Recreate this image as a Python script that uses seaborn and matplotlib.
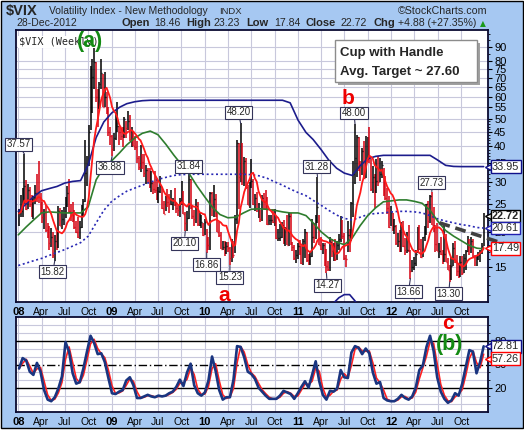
#!/usr/bin/env python3

import numpy as np
import pandas as pd
import matplotlib
matplotlib.use("Agg")
import matplotlib.pyplot as plt
import matplotlib.ticker as mticker
import matplotlib.dates as mdates
from matplotlib.patches import Rectangle
import seaborn as sns

W, H = 524, 432

# weekly bars (high / low / close), one list per year
high_2008 = [24.1, 27.0, 28.5, 37.57, 30.5, 29.5, 28.7, 26.9, 26.8, 29.2, 32.0, 35.6, 27.5,
             25.5, 24.0, 24.8, 21.5, 21.0, 20.6, 20.0, 19.5, 20.1, 24.6, 24.2, 23.8, 24.5,
             26.5, 29.0, 30.8, 25.0, 25.5, 23.8, 21.9, 22.5, 21.9, 24.9, 26.1, 42.2, 37.0,
             47.7, 76.9, 81.2, 89.53, 79.2, 64.0, 67.7, 81.5, 72.0, 73.0, 62.0, 55.0, 47.0]
low_2008 = [21.0, 22.5, 22.6, 25.0, 23.8, 24.0, 24.5, 22.6, 22.2, 25.0, 25.5, 25.2, 23.3,
            21.5, 20.5, 19.9, 19.0, 17.2, 17.6, 16.2, 15.82, 17.2, 17.5, 20.9, 20.5, 21.1,
            22.3, 24.5, 23.3, 21.8, 21.6, 20.4, 19.8, 19.0, 18.8, 20.6, 22.5, 25.4, 29.0,
            34.0, 45.6, 52.6, 64.0, 57.6, 47.0, 54.0, 64.0, 55.0, 55.0, 52.0, 43.5, 40.3]
close_2008 = [23.2, 23.7, 27.2, 29.0, 24.0, 28.0, 25.0, 24.1, 26.5, 27.5, 27.3, 26.6, 25.7,
              22.5, 23.5, 20.3, 20.1, 18.2, 19.2, 16.5, 18.5, 17.8, 23.6, 21.0, 22.2, 23.4,
              25.7, 27.5, 23.6, 22.9, 22.6, 20.7, 20.0, 19.2, 20.7, 23.1, 25.7, 32.1, 34.7,
              45.1, 70.0, 70.3, 79.1, 59.9, 56.1, 66.3, 72.7, 55.3, 59.9, 54.3, 44.9, 43.4]

high_2009 = [44.0, 44.6, 52.5, 57.4, 47.3, 46.5, 47.0, 50.6, 49.3, 53.2, 51.6, 46.8, 45.1,
             43.5, 41.7, 37.0, 40.3, 37.7, 37.5, 34.4, 33.5, 33.5, 32.7, 30.0, 32.7, 30.6,
             28.7, 31.5, 28.7, 25.6, 26.8, 28.2, 27.1, 28.1, 26.4, 28.5, 25.4, 24.6, 26.2,
             30.1, 27.8, 23.5, 23.6, 31.84, 30.7, 24.8, 23.8, 26.1, 25.4, 23.2, 23.0, 21.5, 22.1]
low_2009 = [36.88, 38.5, 42.0, 45.0, 40.3, 42.0, 39.9, 43.0, 42.9, 45.8, 41.8, 39.8, 40.0,
            38.7, 35.0, 33.0, 32.6, 33.4, 31.2, 29.4, 29.8, 28.5, 27.6, 27.2, 27.5, 25.8,
            25.2, 27.4, 24.0, 23.1, 23.6, 24.4, 23.3, 24.8, 23.9, 24.6, 23.3, 22.8, 22.5,
            24.9, 23.1, 20.10, 20.2, 22.1, 24.1, 22.2, 21.0, 21.5, 21.0, 21.0, 20.6, 19.3, 19.4]
close_2009 = [39.2, 42.8, 46.1, 47.3, 44.8, 43.4, 41.3, 49.9, 46.4, 49.3, 42.4, 45.9, 40.1,
              39.7, 36.5, 33.9, 35.8, 35.3, 32.1, 33.1, 32.6, 28.9, 29.6, 28.2, 28.0, 25.9,
              27.9, 29.0, 24.3, 23.1, 25.9, 25.4, 25.0, 25.0, 25.7, 25.3, 24.2, 23.9, 25.6,
              28.7, 23.1, 21.4, 22.3, 30.7, 24.2, 22.7, 22.2, 24.7, 21.3, 21.6, 21.7, 19.5, 21.7]

high_2010 = [20.5, 19.2, 27.7, 27.7, 29.2, 27.2, 23.4, 21.7, 19.9, 18.6, 18.5, 18.4, 18.4,
             17.6, 18.8, 18.6, 23.0, 42.2, 41.0, 48.20, 41.0, 36.6, 36.4, 29.2, 30.0, 36.0,
             30.7, 27.2, 27.6, 25.3, 23.9, 27.0, 27.3, 28.0, 26.6, 23.0, 23.0, 24.1, 24.0,
             22.7, 20.5, 21.3, 21.7, 22.0, 20.7, 22.9, 23.3, 23.3, 18.4, 17.9, 17.3, 18.2]
low_2010 = [16.86, 17.2, 17.3, 22.8, 22.6, 22.5, 19.9, 19.2, 17.4, 17.2, 16.4, 16.7, 17.0,
            15.23, 15.6, 16.2, 16.8, 21.3, 24.0, 29.9, 29.2, 29.0, 28.2, 24.8, 24.3, 28.5,
            24.9, 23.6, 23.4, 22.4, 21.6, 21.9, 24.0, 23.8, 21.2, 21.1, 21.2, 21.4, 21.0,
            18.9, 18.6, 18.5, 19.0, 18.1, 17.8, 18.0, 17.8, 17.9, 17.1, 15.9, 15.5, 16.0]
close_2010 = [18.1, 17.9, 27.3, 24.6, 26.1, 22.7, 20.0, 19.5, 17.4, 17.6, 17.0, 17.8, 17.5,
              16.1, 18.4, 16.6, 22.1, 41.0, 31.2, 45.8, 32.1, 35.5, 28.8, 24.9, 28.5, 30.1,
              25.0, 26.3, 23.5, 23.5, 22.1, 26.2, 25.5, 24.5, 21.3, 22.0, 22.0, 21.7, 22.5,
              19.0, 19.0, 19.1, 21.2, 18.3, 20.6, 18.0, 22.7, 18.0, 17.6, 16.1, 16.5, 17.8]

high_2011 = [18.7, 17.8, 18.8, 20.5, 20.0, 16.7, 16.9, 22.1, 21.5, 22.9, 31.28, 23.0, 19.2,
             18.2, 18.3, 17.4, 15.8, 19.1, 18.9, 18.2, 18.9, 18.5, 19.6, 22.7, 22.0, 19.8,
             16.6, 21.8, 20.4, 25.5, 35.4, 48.00, 43.9, 43.2, 35.6, 39.4, 41.8, 43.5, 43.2,
             46.9, 36.0, 34.1, 32.0, 36.0, 36.9, 36.5, 35.5, 33.7, 31.5, 28.6, 26.8, 24.7]
low_2011 = [16.5, 15.4, 15.3, 16.1, 15.7, 15.3, 15.3, 16.3, 18.3, 18.8, 21.5, 17.9, 17.2,
            16.7, 15.2, 14.27, 14.5, 14.5, 16.3, 15.8, 15.8, 15.9, 17.2, 18.4, 18.8, 15.9,
            15.0, 17.0, 17.0, 18.5, 22.5, 29.5, 31.2, 32.7, 30.2, 31.7, 30.6, 31.0, 35.8,
            35.0, 27.9, 27.3, 24.2, 27.5, 29.0, 29.9, 31.0, 26.8, 25.9, 23.1, 20.6, 20.9]
close_2011 = [17.1, 15.5, 18.5, 20.0, 15.9, 15.7, 16.4, 19.2, 19.1, 21.9, 24.4, 18.0, 17.4,
              17.9, 15.3, 15.1, 14.8, 18.4, 17.1, 17.4, 16.0, 18.0, 18.9, 21.9, 19.3, 16.1,
              16.0, 19.5, 17.5, 25.3, 32.0, 36.4, 43.1, 35.6, 33.9, 38.5, 31.0, 41.3, 43.0,
              36.3, 28.2, 31.3, 24.5, 30.2, 30.0, 32.0, 34.5, 27.5, 26.2, 24.3, 20.7, 23.4]

high_2012 = [23.2, 22.2, 21.1, 19.8, 20.3, 21.6, 21.9, 19.0, 19.9, 21.1, 17.3, 15.9, 16.3,
             17.3, 20.8, 21.1, 18.9, 19.2, 21.0, 25.1, 25.6, 26.9, 27.73, 24.4, 21.2, 21.4,
             18.3, 19.2, 17.2, 21.1, 19.6, 16.1, 15.3, 16.3, 18.3, 18.6, 16.6, 15.4, 16.4,
             16.4, 16.7, 17.3, 19.3, 18.9, 19.2, 18.8, 16.6, 16.6, 17.0, 17.3, 18.3, 23.23]
low_2012 = [20.2, 19.6, 18.0, 17.6, 16.9, 16.9, 17.6, 16.6, 16.8, 16.9, 13.66, 14.4, 14.6,
            15.2, 16.8, 17.3, 16.2, 16.3, 18.5, 19.4, 20.6, 21.4, 21.2, 20.0, 17.0, 17.1,
            16.1, 16.6, 15.4, 15.7, 15.6, 14.7, 13.30, 13.5, 15.2, 15.5, 14.0, 13.7, 13.9,
            14.1, 14.3, 14.6, 17.0, 16.6, 16.8, 16.2, 15.1, 15.2, 15.9, 15.6, 16.7, 17.84]
close_2012 = [20.6, 20.9, 18.3, 18.5, 17.1, 20.8, 17.8, 17.3, 17.3, 17.1, 14.5, 15.0, 15.5,
              16.7, 19.6, 17.4, 16.3, 19.2, 19.9, 25.1, 21.8, 26.7, 21.2, 21.1, 18.1, 17.1,
              17.1, 16.7, 16.3, 16.7, 15.6, 14.7, 13.5, 15.2, 17.5, 15.6, 14.5, 14.0, 15.7,
              14.3, 16.1, 17.1, 17.8, 17.6, 18.6, 16.4, 15.1, 15.9, 16.6, 17.0, 17.84, 22.72]

# overlays at month starts (+ last week)
ma40 = [19.5, 20.8, 22.0, 23.3, 23.5, 23.4, 23.3, 23.3, 23.3, 24.5, 30.5, 33.8,
        35.6, 38.0, 40.5, 42.8, 44.5, 45.3, 44.0, 40.7, 37.3, 34.5, 32.0, 29.0,
        26.5, 24.3, 23.0, 22.4, 22.5, 23.3, 24.0, 24.1, 24.0, 23.8, 23.5, 23.3,
        23.3, 22.8, 21.5, 20.0, 19.0, 18.4, 18.0, 19.0, 21.0, 22.8, 24.3, 25.5,
        25.7, 25.9, 25.9, 25.6, 25.2, 23.8, 21.8, 20.2, 19.3, 18.6, 17.9, 17.5, 17.4]
ma100 = [15.2, 15.5, 15.8, 16.1, 16.5, 16.9, 17.3, 17.8, 18.3, 19.3, 21.5, 23.8,
         25.6, 26.8, 27.8, 28.5, 29.2, 29.9, 30.6, 31.1, 31.6, 31.8, 31.9, 31.9,
         31.9, 31.9, 31.9, 31.9, 31.9, 31.9, 31.8, 31.5, 30.9, 30.0, 29.2, 28.3,
         27.5, 26.8, 25.8, 24.8, 23.8, 22.9, 22.3, 22.0, 22.5, 23.0, 23.2, 23.3,
         23.5, 23.6, 23.6, 23.5, 23.3, 22.8, 22.2, 21.8, 21.5, 21.2, 21.0, 20.7, 20.61]
band_upper = [23.6, 25.1, 26.6, 27.9, 28.4, 28.9, 29.7, 30.1, 30.3, 34.5, 43.0, 48.8,
              52.5, 55.0, 56.6, 57.5, 58.0, 58.2, 58.2, 58.2, 58.2, 58.2, 58.2, 58.2,
              58.2, 58.2, 58.2, 58.2, 58.2, 58.2, 58.2, 58.2, 58.2, 58.2, 58.2, 57.0,
              49.5, 44.8, 42.3, 39.0, 35.8, 33.5, 32.2, 31.6, 34.2, 36.2, 36.9, 37.2,
              37.2, 37.2, 37.2, 37.2, 37.2, 37.2, 35.8, 34.3, 34.0, 33.95, 33.95, 33.95, 33.95]
band_lower_dates = ["2011-05-20", "2011-06-10", "2011-07-01", "2011-07-22", "2011-08-12", "2011-09-02"]
band_lower = [11.2, 11.7, 12.0, 12.0, 11.4, 10.5]

# oscillator (every second week)
osc = [45, 58, 55, 41, 37, 52, 41, 18, 6, 4, 9, 20, 35, 78, 66, 39, 26, 28, 45, 66,
       86, 77, 63, 64, 53, 33, 14, 13, 16, 18, 30, 34, 24, 8, 8, 10, 12, 10, 9, 11,
       10, 11, 14, 16, 22, 31, 23, 40, 51, 24, 14, 11, 15, 30, 60, 42, 18, 6, 9, 9,
       31, 73, 72, 59, 41, 38, 32, 21, 16, 11, 7, 7, 7, 11, 17, 15, 13, 7, 14, 22,
       29, 21, 37, 54, 29, 12, 6, 17, 16, 20, 43, 34, 33, 65, 73, 71, 63, 70, 64, 40,
       26, 28, 8, 5, 4, 4, 7, 12, 8, 6, 10, 21, 43, 49, 72, 86, 67, 34, 16, 7,
       2, 5, 14, 11, 26, 47, 68, 66, 39, 53, 72.81]

# callouts: (week index, which end, dx px, dy px)
callouts = [(3, "high", -6, 10), (20, "low", -2, -11), (52, "low", -2, -11),
            (93, "low", -1, -12), (95, "high", 0, 8), (105, "low", 0, -12),
            (118, "low", 0, -12), (124, "high", -2, 11), (167, "high", -1, 10),
            (172, "low", 1, -12), (188, "high", -1, 11), (219, "low", -2, -13),
            (231, "high", 0, 9), (241, "low", -1, -12)]

main_tags = [(33.95, "#10108a", False), (22.72, "black", True),
             (20.61, "#2020b0", False), (17.49, "#ff0000", False)]
osc_tags = [(72.81, "#10108a"), (57.26, "#ff0000")]

highs = np.array(high_2008 + high_2009 + high_2010 + high_2011 + high_2012)
lows = np.array(low_2008 + low_2009 + low_2010 + low_2011 + low_2012)
closes = np.array(close_2008 + close_2009 + close_2010 + close_2011 + close_2012)
weeks = pd.date_range("2008-01-04", periods=len(closes), freq="W-FRI")
month_dates = list(pd.date_range("2008-01-01", periods=60, freq="MS")) + [weeks[-1]]
osc_dates = weeks[::2]

BG = "#a6c8f2"
GRID = "#c8c8dc"
FRAME = "#0a0a30"

sns.set_style("white")
plt.rcParams["font.family"] = ["Liberation Sans", "DejaVu Sans"]
NARROW = ["Liberation Sans Narrow", "Liberation Sans"]

fig = plt.figure(figsize=(W / 100, H / 100), dpi=100)
fig.patch.set_facecolor("white")
fig.add_artist(Rectangle((0.5 / W, 1 - 427.5 / H), 522 / W, 427 / H,
                         transform=fig.transFigure, fc=BG, ec="black", lw=1, zorder=-10))

ax = fig.add_axes([16 / W, 1 - 302 / H, 472 / W, 272 / H])
ax2 = fig.add_axes([16 / W, 1 - 412 / H, 472 / W, 95 / H])


def px(x, y):
    return x / W, 1 - y / H


# ---------------- main panel ----------------
colors = ["black" if i == 0 or closes[i] >= closes[i - 1] else "#d40010" for i in range(len(closes))]
ax.vlines(weeks, lows, highs, colors=colors, lw=1.1, zorder=3)
ax.hlines(closes, weeks, weeks + pd.Timedelta(days=3), colors=colors, lw=1.0, zorder=3)

ma10 = pd.Series(closes).rolling(10, min_periods=1).mean().values
sns.lineplot(x=month_dates, y=band_upper, ax=ax, color="#1c1c8c", lw=1.2, zorder=4)
sns.lineplot(x=pd.to_datetime(band_lower_dates), y=band_lower, ax=ax, color="#1c1c8c", lw=1.2, zorder=4)
sns.lineplot(x=month_dates, y=ma100, ax=ax, color="#2828b4", lw=1.2, zorder=4)
ax.lines[-1].set_linestyle((0, (1.2, 1.6)))
sns.lineplot(x=month_dates, y=ma40, ax=ax, color="#2e7d2e", lw=1.2, zorder=4)
sns.lineplot(x=weeks, y=ma10, ax=ax, color="#ff1a1a", lw=1.3, zorder=5)

# handle line
ax.plot([pd.Timestamp("2012-07-08"), pd.Timestamp("2013-03-21")], [21.5, 18.1],
        color="#404040", lw=2.6, ls=(0, (3, 1.6)), clip_on=False, zorder=6)

ax.set_yscale("log")
ax.set_ylim(11.3, 103)
xmin, xmax = pd.Timestamp("2007-12-23"), pd.Timestamp("2013-01-14")
ax.set_xlim(xmin, xmax)
ax2.set_xlim(xmin, xmax)

yt = [15, 20, 25, 30, 35, 40, 45, 50, 55, 60, 65, 70, 75, 80, 90]
ax.yaxis.set_major_locator(mticker.FixedLocator(yt))
ax.yaxis.set_major_formatter(mticker.FixedFormatter([str(v) for v in yt]))
ax.yaxis.set_minor_locator(mticker.FixedLocator(list(range(12, 50)) + list(range(50, 101, 5))))
ax.yaxis.set_minor_formatter(mticker.NullFormatter())

quarters = pd.date_range("2008-01-01", "2012-10-01", freq="QS")
qlabels = [d.strftime("%y") if d.month == 1 else d.strftime("%b") for d in quarters]
for a in (ax, ax2):
    a.set_xticks(quarters)
    a.set_xticklabels(qlabels)
    for t, d in zip(a.get_xticklabels(), quarters):
        t.set_fontweight("bold" if d.month == 1 else "normal")
        t.set_fontsize(8 if d.month == 1 else 7.5)
    a.tick_params(axis="x", length=0, pad=3.5, colors="black")
    a.tick_params(axis="y", which="both", left=False, right=True, labelleft=False,
                  labelright=True, direction="out", pad=1.5, labelsize=8, colors="black")
    a.tick_params(axis="y", which="major", length=3)
    a.tick_params(axis="y", which="minor", length=1.5)
    for lab in a.get_yticklabels():
        lab.set_family(NARROW)
    for s in a.spines.values():
        s.set_color(FRAME)
        s.set_linewidth(1.3)
    a.set_xlabel("")
    a.set_ylabel("")
    a.set_axisbelow(True)

ax.grid(True, which="major", color=GRID, lw=0.8)

# callout boxes
for idx, kind, dx, dy in callouts:
    v = highs[idx] if kind == "high" else lows[idx]
    ax.annotate(f"{v:.2f}", xy=(mdates.date2num(weeks[idx]), v), xytext=(dx, dy),
                textcoords="offset pixels", ha="center", va="center", fontsize=7,
                bbox=dict(boxstyle="square,pad=0.15", fc="white", ec="#34345a", lw=0.8),
                arrowprops=dict(arrowstyle="-", color="#34345a", lw=0.8, shrinkA=0, shrinkB=0),
                annotation_clip=False, zorder=8)

# value tags on the right
def right_tag(a, v, ec, bold=False):
    a.plot([1.0], [v], marker="<", ms=5, mfc="white", mec=ec, mew=1.0,
           transform=a.get_yaxis_transform(), clip_on=False, zorder=9)
    a.annotate(f"{v:.2f}", xy=(1, v), xycoords=("axes fraction", "data"), xytext=(4, 0),
               textcoords="offset pixels", ha="left", va="center", fontsize=7.8,
               fontweight="bold" if bold else "normal",
               bbox=dict(boxstyle="square,pad=0.12", fc="white", ec=ec, lw=1.0),
               annotation_clip=False, zorder=10)


for v, ec, bold in main_tags:
    right_tag(ax, v, ec, bold)

ax.text(0.006, 0.975, r"\$VIX (Weekly)", transform=ax.transAxes, ha="left", va="top",
        family="DejaVu Sans Mono", fontsize=7.3, zorder=7,
        bbox=dict(boxstyle="square,pad=0.1", fc="white", ec="none"))

# wave labels
ax.text(pd.Timestamp("2008-10-06"), 93.5, "(a)", color="#138a13", fontsize=15.5,
        fontweight="bold", ha="center", va="center", zorder=9)
ax.text(pd.Timestamp("2010-03-17"), 11.9, "a", color="#ee0000", fontsize=15,
        fontweight="bold", ha="center", va="center", zorder=9, clip_on=False)
ax.text(pd.Timestamp("2011-07-14"), 58.8, "b", color="#ee0000", fontsize=15,
        fontweight="bold", ha="center", va="center", zorder=9)

# legend box
fig.add_artist(Rectangle((338 / W, 1 - 84.7 / H), 141.7 / W, 41.7 / H, transform=fig.transFigure,
                         fc="#a0a0a0", ec="none", zorder=5))
fig.add_artist(Rectangle((335 / W, 1 - 81.7 / H), 141.7 / W, 41.7 / H, transform=fig.transFigure,
                         fc="white", ec="#8c8c8c", lw=1, zorder=5))
fig.text(*px(340, 53), "Cup with Handle", fontsize=9.5, fontweight="bold", va="center", zorder=6)
fig.text(*px(340, 72), "Avg. Target ~ 27.60", fontsize=9.5, fontweight="bold", va="center", zorder=6)

# ---------------- oscillator panel ----------------
signal = pd.Series(osc).rolling(2, min_periods=1).mean().values
sns.lineplot(x=osc_dates, y=signal, ax=ax2, color="#ff2020", lw=1.2, zorder=4)
sns.lineplot(x=osc_dates, y=osc, ax=ax2, color="#1a3580", lw=1.9, zorder=5)
for lvl in (20, 80):
    ax2.axhline(lvl, color="black", lw=1.0, zorder=3)
ax2.axhline(50, color="black", lw=1.0, ls=(0, (6, 2, 1, 2)), zorder=3)
ax2.set_ylim(-9.5, 109.5)
ax2.yaxis.set_major_locator(mticker.FixedLocator([20, 50, 80]))
ax2.yaxis.set_minor_locator(mticker.FixedLocator(list(range(0, 101, 10))))
ax2.yaxis.set_minor_formatter(mticker.NullFormatter())
ax2.grid(True, axis="x", which="major", color=GRID, lw=0.8)
ax2.grid(True, axis="y", which="minor", color=GRID, lw=0.8)
ax2.set_xlabel("")
ax2.set_ylabel("")
for v, ec in osc_tags:
    right_tag(ax2, v, ec)

ax2.text(pd.Timestamp("2012-08-09"), 101, "c", color="#ee0000", fontsize=15,
         fontweight="bold", ha="center", va="center", zorder=9, clip_on=False)
ax2.text(pd.Timestamp("2012-08-15"), 75.5, "(b)", color="#138a13", fontsize=15.5,
         fontweight="bold", ha="center", va="center", zorder=9)

# ---------------- header ----------------
fig.text(*px(6, 10.5), r"\$VIX", fontsize=10.5, fontweight="bold", va="center")
fig.text(*px(49, 10.5), "Volatility Index - New Methodology", fontsize=7.5, va="center")
fig.text(*px(219, 11), "INDX", fontsize=6.8, va="center")
fig.text(*px(487, 10.5), "\u00a9StockCharts.com", fontsize=7.7, va="center", ha="right")
fig.text(*px(16, 23.5), "28-Dec-2012", fontsize=7.5, va="center")
header_parts = [(121.7, "Open", True), (154, "18.46", False), (186, "High", True),
                (213.3, "23.23", False), (246, "Low", True), (274, "17.84", False),
                (306, "Close", True), (340.7, "22.72", False), (373.3, "Chg", True),
                (398.3, "+4.88 (+27.35%)", False)]
for x, s, b in header_parts:
    fig.text(*px(x, 23.5), s, fontsize=8 if b else 7.6, fontweight="bold" if b else "normal",
             va="center")
fig.text(*px(480, 23.5), "\u25b2", fontsize=5.5, color="#1a9a1a", va="center",
         family="DejaVu Sans")

fig.savefig("out.png", dpi=100, facecolor=fig.get_facecolor())
